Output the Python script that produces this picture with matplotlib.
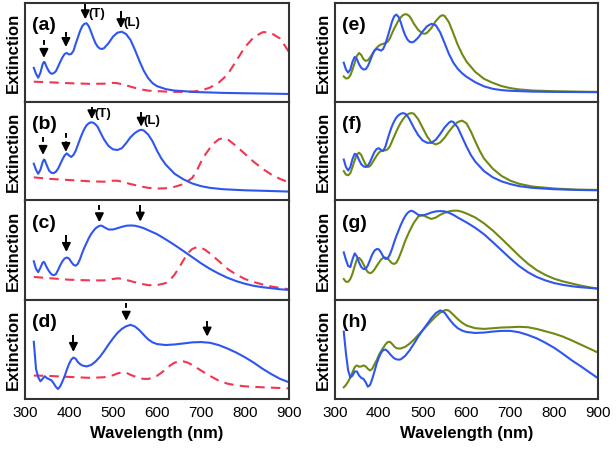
import matplotlib
matplotlib.use("Agg")
import matplotlib.pyplot as plt

plt.rcParams['font.family'] = ['Liberation Sans', 'DejaVu Sans']

# ---------------- data (normalized extinction) -------------
a_blue_wl = [320,325,330,335,340,343,345,350,355,360,365,370,375,380,385,390,395,400,405,410,415,420,425,430,435,440,445,450,455,460,465,470,475,480,490,500,510,520,530,540,550,560,570,580,590,600,620,640,660,680,700,750,800,850,900]
a_blue = [0.34,0.28,0.24,0.29,0.375,0.40,0.395,0.34,0.30,0.28,0.285,0.305,0.35,0.40,0.445,0.48,0.49,0.475,0.48,0.51,0.58,0.645,0.71,0.76,0.785,0.79,0.76,0.705,0.645,0.59,0.555,0.535,0.53,0.54,0.59,0.655,0.695,0.705,0.68,0.62,0.52,0.41,0.31,0.235,0.185,0.155,0.125,0.11,0.105,0.097,0.094,0.087,0.083,0.08,0.076]
a_red_wl = [320,350,400,450,480,500,510,520,540,560,580,600,620,640,660,680,700,720,740,760,780,800,820,840,850,860,880,900]
a_red = [0.20,0.195,0.185,0.178,0.18,0.188,0.185,0.175,0.15,0.125,0.11,0.105,0.10,0.097,0.097,0.10,0.11,0.14,0.19,0.27,0.41,0.55,0.65,0.70,0.70,0.69,0.635,0.50]

b_blue_wl = [320,325,330,335,340,343,345,350,355,360,365,370,375,380,385,390,395,400,405,410,415,420,425,430,435,440,445,450,455,460,465,470,475,480,490,500,510,520,530,540,550,560,565,570,580,590,600,610,620,640,660,680,700,720,750,800,850,900]
b_blue = [0.372,0.31,0.27,0.31,0.386,0.414,0.407,0.35,0.30,0.28,0.276,0.29,0.32,0.366,0.414,0.455,0.476,0.455,0.44,0.46,0.50,0.56,0.62,0.676,0.724,0.76,0.78,0.79,0.786,0.77,0.745,0.70,0.655,0.614,0.55,0.517,0.51,0.528,0.58,0.64,0.683,0.71,0.714,0.707,0.666,0.597,0.503,0.424,0.362,0.27,0.214,0.172,0.145,0.128,0.114,0.103,0.097,0.09]
b_red_wl = [320,350,400,450,480,500,510,520,540,560,580,600,620,640,660,680,690,700,710,720,730,740,750,760,780,800,820,840,860,880,900]
b_red = [0.234,0.22,0.207,0.193,0.19,0.20,0.20,0.19,0.166,0.145,0.128,0.12,0.124,0.138,0.166,0.228,0.297,0.39,0.466,0.528,0.58,0.617,0.63,0.62,0.55,0.47,0.39,0.32,0.262,0.217,0.183]

c_blue_wl = [320,325,330,335,340,343,345,350,355,360,365,370,375,380,385,390,395,400,405,410,415,420,425,430,435,440,445,450,455,460,465,470,475,480,490,500,510,520,530,540,550,560,570,580,600,620,640,660,680,700,720,740,760,780,800,820,840,860,880,900]
c_blue = [0.386,0.31,0.276,0.32,0.372,0.38,0.366,0.32,0.283,0.255,0.245,0.255,0.297,0.345,0.386,0.414,0.424,0.414,0.38,0.352,0.341,0.36,0.407,0.47,0.524,0.572,0.62,0.66,0.69,0.717,0.734,0.745,0.745,0.73,0.707,0.707,0.72,0.734,0.745,0.748,0.745,0.734,0.72,0.70,0.66,0.607,0.55,0.49,0.428,0.366,0.31,0.262,0.22,0.186,0.159,0.138,0.124,0.114,0.103,0.097]
c_red_wl = [320,350,400,450,480,500,510,520,540,560,580,600,620,630,640,650,660,670,680,690,700,710,720,740,760,780,800,820,840,860,880,900]
c_red = [0.228,0.217,0.20,0.193,0.193,0.207,0.214,0.21,0.186,0.162,0.145,0.145,0.166,0.20,0.252,0.32,0.397,0.466,0.51,0.528,0.524,0.50,0.466,0.39,0.31,0.252,0.207,0.176,0.152,0.131,0.117,0.103]

d_blue_wl = [320,325,330,335,340,345,350,355,360,365,370,375,380,385,390,395,400,405,410,415,420,425,430,440,450,460,470,480,490,500,510,520,530,540,550,560,570,580,590,600,620,640,660,680,700,720,740,760,780,800,820,840,860,880,900]
d_blue = [0.573,0.30,0.215,0.174,0.198,0.225,0.205,0.195,0.184,0.154,0.119,0.096,0.123,0.171,0.225,0.29,0.348,0.392,0.413,0.403,0.369,0.348,0.334,0.324,0.338,0.372,0.42,0.48,0.546,0.607,0.662,0.703,0.73,0.744,0.727,0.69,0.642,0.597,0.567,0.55,0.54,0.546,0.556,0.567,0.57,0.563,0.54,0.505,0.464,0.416,0.362,0.30,0.246,0.198,0.164]
d_red_wl = [320,350,400,450,480,500,510,520,530,540,550,560,570,580,590,600,610,620,630,640,650,660,670,680,700,720,740,760,780,800,840,900]
d_red = [0.232,0.229,0.218,0.208,0.215,0.235,0.253,0.263,0.26,0.239,0.222,0.205,0.198,0.198,0.208,0.229,0.26,0.297,0.334,0.362,0.375,0.375,0.362,0.338,0.283,0.229,0.181,0.15,0.133,0.123,0.113,0.102]

e_blue_wl = [320,325,330,335,340,345,350,355,360,365,370,375,380,385,390,395,400,405,410,415,420,425,430,435,440,445,450,455,460,465,470,475,480,490,500,510,520,530,540,550,560,570,580,590,600,620,640,660,680,700,750,800,900]
e_blue = [0.392,0.323,0.292,0.323,0.403,0.45,0.427,0.375,0.34,0.323,0.326,0.358,0.41,0.469,0.514,0.531,0.524,0.514,0.531,0.583,0.653,0.729,0.806,0.861,0.878,0.854,0.80,0.729,0.67,0.628,0.604,0.597,0.604,0.646,0.708,0.76,0.785,0.77,0.698,0.59,0.479,0.392,0.33,0.285,0.25,0.194,0.153,0.128,0.115,0.108,0.10,0.097,0.094]
e_green_wl = [320,325,330,335,340,345,350,355,360,365,370,375,380,385,390,395,400,405,410,415,420,425,430,435,440,445,450,455,460,465,470,475,480,490,500,505,510,520,530,540,545,550,560,570,580,590,600,620,640,660,680,700,720,750,800,850,900]
e_green = [0.253,0.233,0.236,0.264,0.323,0.392,0.462,0.49,0.469,0.427,0.41,0.417,0.444,0.479,0.514,0.542,0.563,0.576,0.583,0.59,0.604,0.635,0.688,0.736,0.778,0.82,0.85,0.872,0.882,0.878,0.861,0.826,0.785,0.722,0.688,0.684,0.694,0.743,0.813,0.861,0.872,0.865,0.80,0.688,0.573,0.479,0.403,0.299,0.229,0.188,0.156,0.135,0.122,0.111,0.104,0.10,0.097]

f_blue_wl = [320,325,330,335,340,345,350,355,360,365,370,375,380,385,390,395,400,405,410,415,420,425,430,435,440,445,450,455,460,465,470,480,490,500,510,520,530,540,550,560,565,570,580,590,600,610,620,640,660,680,700,720,750,800,850,900]
f_blue = [0.414,0.338,0.303,0.338,0.42,0.472,0.459,0.407,0.366,0.345,0.338,0.352,0.39,0.441,0.49,0.52,0.528,0.51,0.50,0.545,0.62,0.69,0.752,0.80,0.838,0.862,0.876,0.883,0.876,0.855,0.82,0.734,0.659,0.607,0.583,0.583,0.614,0.672,0.738,0.786,0.80,0.793,0.738,0.641,0.545,0.459,0.393,0.297,0.234,0.193,0.166,0.145,0.128,0.114,0.107,0.103]
f_green_wl = [320,325,330,335,340,345,350,355,360,365,370,375,380,385,390,395,400,405,410,415,420,425,430,435,440,445,450,455,460,465,470,475,480,490,500,510,520,530,540,550,560,570,580,590,600,610,620,630,640,660,680,700,720,750,800,850,900]
f_green = [0.297,0.262,0.255,0.276,0.338,0.407,0.466,0.483,0.459,0.407,0.362,0.338,0.348,0.38,0.417,0.452,0.483,0.50,0.507,0.507,0.517,0.545,0.597,0.648,0.697,0.745,0.786,0.82,0.848,0.869,0.879,0.883,0.876,0.82,0.734,0.648,0.586,0.566,0.586,0.634,0.697,0.752,0.793,0.807,0.779,0.697,0.597,0.503,0.424,0.321,0.248,0.20,0.169,0.141,0.121,0.11,0.107]

g_blue_wl = [320,325,330,335,340,345,350,355,360,365,370,375,380,385,390,395,400,405,410,415,420,425,430,435,440,445,450,455,460,465,470,475,480,490,500,510,520,530,540,550,560,570,580,600,620,640,660,680,700,720,740,760,780,800,820,840,860,880,900]
g_blue = [0.476,0.40,0.338,0.328,0.407,0.466,0.434,0.372,0.328,0.307,0.31,0.345,0.40,0.455,0.493,0.51,0.507,0.476,0.434,0.41,0.414,0.452,0.51,0.579,0.641,0.697,0.752,0.80,0.841,0.872,0.89,0.897,0.886,0.855,0.848,0.862,0.879,0.89,0.893,0.89,0.876,0.855,0.828,0.779,0.724,0.659,0.579,0.497,0.414,0.338,0.276,0.228,0.193,0.166,0.148,0.134,0.124,0.117,0.11]
g_green_wl = [320,325,330,335,340,345,350,355,360,365,370,375,380,385,390,395,400,405,410,415,420,425,430,435,440,445,450,455,460,465,470,475,480,490,500,510,520,530,540,550,560,570,580,590,600,620,640,660,680,700,720,740,760,780,800,820,840,860,880,900]
g_green = [0.207,0.179,0.179,0.207,0.262,0.338,0.407,0.421,0.397,0.355,0.31,0.276,0.266,0.276,0.303,0.338,0.372,0.403,0.421,0.424,0.414,0.39,0.366,0.359,0.372,0.414,0.469,0.528,0.59,0.641,0.69,0.734,0.776,0.838,0.855,0.831,0.814,0.828,0.855,0.876,0.89,0.897,0.897,0.886,0.869,0.828,0.769,0.697,0.614,0.528,0.441,0.362,0.297,0.248,0.21,0.183,0.162,0.141,0.124,0.11]

h_blue_wl = [320,325,330,335,340,345,350,355,360,365,370,375,380,385,390,395,400,405,410,415,420,425,430,435,440,445,450,460,470,480,490,500,510,520,530,540,550,560,570,580,590,600,620,640,660,680,700,720,740,760,780,800,820,840,860,880,900]
h_blue = [0.676,0.454,0.283,0.212,0.232,0.273,0.273,0.232,0.208,0.198,0.164,0.119,0.137,0.198,0.273,0.352,0.413,0.461,0.488,0.495,0.478,0.451,0.427,0.406,0.396,0.392,0.396,0.43,0.485,0.553,0.625,0.689,0.751,0.812,0.863,0.89,0.867,0.805,0.751,0.71,0.686,0.672,0.662,0.666,0.676,0.683,0.683,0.669,0.642,0.608,0.563,0.512,0.451,0.386,0.328,0.266,0.205]
h_green_wl = [320,325,330,335,340,345,350,355,360,365,370,375,380,385,390,395,400,405,410,415,420,425,430,435,440,445,450,460,470,480,490,500,510,520,530,540,550,555,560,570,580,590,600,620,640,660,680,700,720,740,760,780,800,820,840,860,880,900]
h_green = [0.113,0.137,0.171,0.215,0.266,0.317,0.334,0.321,0.324,0.334,0.324,0.30,0.283,0.30,0.345,0.386,0.437,0.478,0.512,0.546,0.57,0.573,0.553,0.526,0.509,0.505,0.505,0.522,0.553,0.594,0.642,0.689,0.737,0.785,0.829,0.867,0.891,0.894,0.887,0.846,0.802,0.765,0.737,0.71,0.703,0.71,0.717,0.72,0.724,0.72,0.703,0.679,0.655,0.625,0.587,0.546,0.505,0.464]

panel_labels = ['(a)', '(b)', '(c)', '(d)', '(e)', '(f)', '(g)', '(h)']
x_ticks = [300, 400, 500, 600, 700, 800, 900]

# arrows: (panel, wavelength, y_tail, y_tip, dashed, label)
arrows = [
    (0, 343, 0.62, 0.44, True, ''), (0, 393, 0.70, 0.55, True, ''),
    (0, 437, 0.98, 0.83, False, '(T)'), (0, 518, 0.91, 0.74, False, '(L)'),
    (1, 341, 0.64, 0.46, True, ''), (1, 393, 0.68, 0.49, True, ''),
    (1, 452, 0.94, 0.82, False, '(T)'), (1, 564, 0.89, 0.745, False, '(L)'),
    (2, 394, 0.65, 0.48, False, ''), (2, 469, 0.95, 0.78, True, ''),
    (2, 562, 0.95, 0.786, False, ''),
    (3, 410, 0.64, 0.47, False, ''), (3, 530, 0.966, 0.785, True, ''),
    (3, 714, 0.785, 0.625, False, ''),
]

BLUE = '#2f55f0'
RED = '#f2364f'
GREEN = '#6f8a12'
SPINE = '#333333'

fig = plt.figure(figsize=(6.16, 4.52), dpi=100)
top = 1 - 3.5 / 452
bottom = 1 - 399.5 / 452
h = (top - bottom) / 4
cols = [(25 / 616, 264 / 616), (335 / 616, 263 / 616)]

left_data = [(a_blue_wl, a_blue, a_red_wl, a_red), (b_blue_wl, b_blue, b_red_wl, b_red),
             (c_blue_wl, c_blue, c_red_wl, c_red), (d_blue_wl, d_blue, d_red_wl, d_red)]
right_data = [(e_blue_wl, e_blue, e_green_wl, e_green), (f_blue_wl, f_blue, f_green_wl, f_green),
              (g_blue_wl, g_blue, g_green_wl, g_green), (h_blue_wl, h_blue, h_green_wl, h_green)]

axes = []
for c, (x0, w) in enumerate(cols):
    for r in range(4):
        ax = fig.add_axes([x0, top - (r + 1) * h, w, h])
        axes.append(ax)
        if c == 0:
            bw, bv, rw, rv = left_data[r]
            ax.plot(rw, rv, color=RED, lw=1.5, linestyle=(0, (4.5, 3)))
            ax.plot(bw, bv, color=BLUE, lw=1.5)
        else:
            bw, bv, gw, gv = right_data[r]
            ax.plot(gw, gv, color=GREEN, lw=1.5)
            ax.plot(bw, bv, color=BLUE, lw=1.5)
        ax.set_xlim(300, 900)
        ax.set_ylim(0, 1)
        ax.set_yticks([])
        ax.set_xticks(x_ticks)
        ax.tick_params(axis='x', length=0, pad=5, labelsize=11)
        if r < 3:
            ax.set_xticklabels([])
        else:
            ax.set_xlabel('Wavelength (nm)', fontsize=12, fontweight='bold', labelpad=4)
        for s in ax.spines.values():
            s.set_linewidth(1.5)
            s.set_color(SPINE)
        ax.set_ylabel('Extinction', fontsize=12, fontweight='bold', labelpad=3)
        ax.text(0.025, 0.78, panel_labels[c * 4 + r], transform=ax.transAxes,
                fontsize=14, fontweight='bold', va='center', ha='left')

for (p, x, yt, yh, dashed, lab) in arrows:
    ax = axes[p]
    head = 0.07
    ax.plot([x, x], [yt, yh + head * 0.6], color='k', lw=1.4,
            linestyle=(0, (2.5, 1.8)) if dashed else '-', solid_capstyle='butt')
    ax.annotate('', xy=(x, yh), xytext=(x, yh + head),
                arrowprops=dict(arrowstyle='-|>,head_width=0.25,head_length=0.5',
                                color='k', lw=1.4, shrinkA=0, shrinkB=0))
    if lab:
        ax.text(x + 6, yh + 0.065, lab, fontsize=9.5, fontweight='bold',
                va='center', ha='left')

fig.savefig('out.png', dpi=100)
